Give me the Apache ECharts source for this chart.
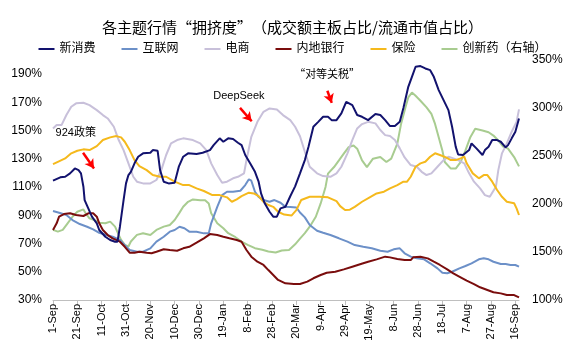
<!DOCTYPE html>
<html>
<head>
<meta charset="utf-8">
<script src="https://cdn.jsdelivr.net/npm/echarts@6/dist/echarts.min.js"></script>
<style>
html,body{margin:0;padding:0;background:#fff;}
#c{width:585px;height:355px;}
</style>
</head>
<body>
<div id="c"></div>
<script>
// x values: days since 1-Sep-2024
const xinxiaofeiDays = [0,6,10,14,18,21,23,25,26,29,32,36,38,43,47,51,53,55,58,60,62,64,67,70,74,80,82,86,88,91,95,100,103.5,107,111,118,123,129,132,137,140,144,148,152,155,158,162,166,169,171,174,178,181,184,187,191,195,199,203,207,210,214,218,222,226,229,233,237,241,246,250,254,259,265,269,273,277,281,285,288,292,295,298,302,306,310,313,317,321,325,328,331,333,337,342,344,348,353,355,358,361,365,368,372,374,377,380,383];
const xinxiaofeiVals = [114.5,116.9,117.3,119.7,123.2,122,119.7,110.2,100.8,94.9,89,84.3,79.6,74.8,72.5,71.3,71.3,81.9,100.8,112.6,118.5,120.8,126.8,131.5,133.9,134.3,136.2,135.7,122,113.8,112.6,113,124.7,131.5,133.9,133.4,134.3,136.2,139.7,144.5,142.1,144.5,144,141.4,139.7,132.7,126.8,120.8,113.8,105.5,98.5,92.5,89,89,94.9,96,103.5,110.5,119.7,129.1,138.5,152.7,156.2,159.8,159.8,157.4,157.4,162.2,170.4,168,161,159.8,157.4,161.7,161,157.4,153.2,153.2,156.2,166,181,188.1,195.2,195.7,194,192.8,188.1,178.7,171.6,164.5,152.7,138.5,133.1,132.7,136.2,140.9,137.4,132.7,136.2,138.5,143.3,143.3,142.1,138.1,139.7,144.5,149.2,158.6];

const hulianwangDays = [0,5,11,16,22,28,33,38,44,49,55,59,63,69,74,80,85,91,96,100,104,108,112,118,124,128,130,135,139,143,148,154,158,161,163,166,169,173,178,182,187,191,195,200,203,207,211,217,222,228,235,242,248,255,262,269,275,280,285,289,294,299,305,310,316,320,324,328,334,339,344,350,354,358,362,368,372,376,380,383];
const hulianwangVals = [93,91.8,90.2,86.6,83.8,81.9,80,77.6,76,74.8,72.5,68.9,65.4,64.2,64.2,66.6,71.3,74.8,78.4,79.6,81.9,80.8,78.4,78.4,77.2,77.2,84.3,96,104.3,106.7,106.7,107.4,111.4,115.5,114.5,106.7,103.1,100.8,99.6,100.8,98.9,96,95.8,95.5,92,88.5,83.1,79.1,77.6,76,73.7,71.3,68.9,67.7,66.6,64.9,64.2,65.9,66.6,63.1,60.7,59.5,58.8,56,52.4,49.3,48.9,50,52.4,54.1,56,58.8,59.5,58.8,57.1,55.5,55.5,54.8,54.8,53.6];

const dianshangDays = [0,3,7,11,15,19,25,30,36,41,45,50,54,58,62,66,69,74,80,85,89,93,97,102,107,115,121,126,130,135,139,143,148,152,157,159,163,168,173,178,184,189,195,199,203,207,211,217,222,228,233,237,242,246,250,254,259,265,269,273,277,281,285,289,294,299,303,307,311,316,321,325,329,333,338,342,346,351,355,359,364,366,369,373,377,381,383];
const dianshangVals = [151.5,153.9,153.9,161,166.9,169.3,169.7,168,164.5,161,158.6,152.7,143.3,136.2,126.8,117.3,113.8,112.6,112.6,115,122,132.7,140.9,143.3,144.5,143.3,140.9,136.2,126.8,118.5,113,113.8,116.2,117.3,119.7,129,145.6,156.2,163.3,165.7,165,161,157.4,152.7,146,135,124.4,119.7,117.8,117.3,119.7,124.4,133.9,143.3,151.5,154.6,156.2,155.1,150.4,146.8,146.1,143.3,137.4,131,125.6,124.4,120.8,118.5,119.7,124.4,129.1,131.5,130.3,129.1,126.8,119.7,113.8,109.1,104.3,103.1,110.2,122,133.9,140.9,149.2,156.2,165];

const yinhangDays = [0,3,5,9,14,19,25,29,33,36,38,41,45,49,55,59,63,67,71,77,81,85,91,96,102,107,112,118,124,129,135,140,145,151,155,159,163,168,173,177,181,185,191,198,203,209,214,220,225,232,239,246,253,259,266,273,277,283,289,294,296,302,308,313,318,324,329,335,340,346,351,357,362,368,373,379,383];
const yinhangVals = [79.6,84.3,89,90.9,91.4,90.2,89.5,91.4,91.4,89,84.3,79.6,76,73.7,71.3,67.7,63.5,63.5,64.2,63.5,63.1,64.2,65.9,65.4,64.9,66.6,67.7,70.6,73.7,76.7,76,74.8,73.7,72.5,71.3,65.4,60.7,57.1,54.8,51.2,47.7,44.2,41.8,41.3,41.3,43,45.4,47.7,49.3,50,51.7,53.6,55.5,57.1,58.8,60.7,60.2,59,58.3,58.3,60.2,60.7,59.5,57.1,54.8,51.7,48.9,46.1,43.7,41.3,39,37.1,35.5,34.7,33.5,33.5,31.9];

const baoxianDays = [0,4,10,15,20,25,30,36,41,47,52,56,59,63,67,71,77,82,88,93,100,107,112,118,124,131,137,143,147,151,155,161,165,169,173,177,181,185,190,196,200,204,211,219,226,233,236,240,244,248,254,261,266,272,277,283,288,291,294,298,302,306,310,314,318,323,327,331,335,338,340,345,350,354,357,361,365,369,373,379,381,383];
const baoxianVals = [126.3,127.9,130.3,133.9,135.7,136.7,136.2,139,143.3,145.2,146.1,145.2,142.1,136.2,129.1,124.9,122,118.5,117.3,117.3,113.8,111.4,111.4,109.1,107.2,104.3,104.3,102.7,99.6,101.3,103.6,106,105.5,103.6,99.6,97.3,96,92.5,90.5,89.8,93.7,100.8,103.1,103.1,102.7,100,96.5,93.7,94,96,99.6,103.1,105.5,106.7,109.1,111.4,113.8,113.8,117.3,124.4,126.8,127.9,131.5,133.9,132.7,131,129.1,129.1,130.3,131.5,126.8,119.7,116.2,118.5,118.5,113.8,107.9,103.1,99.6,98.5,94.9,90.2];

const chuangxinyaoDays = [0,4,8,12,16,20,25,27,30,34,38,43,47,51,54,56,59,62,64,69,74,80,85,91,96,100,104,107,111,115,121,125,128,130,135,140,144,150,155,160,166,172,177,183,188,194,199,203,207,211,216,220,224,226,231,235,239,243,247,250,254,258,263,269,274,278,283,286,290,292,295,298,302,307,311,314,317,320,322,327,331,335,339,343,347,353,358,362,366,370,374,379,383];
const chuangxinyaoVals = [173,171.2,173,179.9,186.7,191.9,194.4,190,185.1,183.3,180.5,179.9,181.6,176.4,167.8,162.6,157.5,155.7,160.9,167.8,169.6,167.8,173,176.4,178.2,183.3,191,197.1,202.3,204.8,204,204,200.6,190.3,179.9,174.7,169.6,165.4,160.9,157.5,154,152.3,150.5,149.5,151.6,152,158,164,169.6,176.4,186.7,200.6,217.8,231.7,238.5,245.4,252.4,259.2,261,257.6,245.4,238.5,247.2,248.9,243.7,247.2,263,283,302,311,316.1,312.7,307.6,300.6,293.8,283.4,269.6,255.8,243.7,236.9,236.9,243.7,255.8,269.6,278.3,276.5,274.7,271.3,266.1,259.9,257.6,248.9,239.2];

const leftTicks = {min: 30, max: 200, interval: 20};
const rightTicks = {min: 100, max: 350, interval: 50};
const xRange = {min: 0, max: 383, interval: 20};
const monthNames = ['Jan','Feb','Mar','Apr','May','Jun','Jul','Aug','Sep','Oct','Nov','Dec'];

// annotations (data coordinates)
const notes = [
  {text: '924政策', at: [18.7, 148.6], arrow: [[24.7, 134.3], [33.7, 123.2]]},
  {text: 'DeepSeek', at: [152.8, 174.8], arrow: [[153.7, 166.1], [163.3, 156.6]]},
  {text: '“对等关税”', at: [225.3, 190], arrow: [[225.5, 178.2], [229.1, 169.6]]}
];

const zip = (a, b) => a.map((d, i) => [d, b[i]]);
const FONT = '"Liberation Sans", Arial, "Noto Sans CJK SC", sans-serif';
const CJK = '"Noto Sans CJK SC", "Liberation Sans", sans-serif';

const seriesDefs = [
  {name: '新消费', days: xinxiaofeiDays, vals: xinxiaofeiVals, color: '#12126e', y: 0, z: 8},
  {name: '互联网', days: hulianwangDays, vals: hulianwangVals, color: '#6c90c8', y: 0, z: 3},
  {name: '电商', days: dianshangDays, vals: dianshangVals, color: '#c8c0da', y: 0, z: 2},
  {name: '内地银行', days: yinhangDays, vals: yinhangVals, color: '#7a0d0d', y: 0, z: 4},
  {name: '保险', days: baoxianDays, vals: baoxianVals, color: '#f5b91c', y: 0, z: 5},
  {name: '创新药（右轴）', days: chuangxinyaoDays, vals: chuangxinyaoVals, color: '#a8cc90', y: 1, z: 1}
];

const chart = echarts.init(document.getElementById('c'), null, {renderer: 'canvas'});
const series = seriesDefs.map(s => ({
  name: s.name, type: 'line', yAxisIndex: s.y, data: zip(s.days, s.vals),
  showSymbol: false, symbol: 'none', smooth: false, z: s.z,
  lineStyle: {color: s.color, width: 2}, itemStyle: {color: s.color}
}));
series[4].markLine = {
  silent: true, animation: false, symbol: ['none', 'arrow'], symbolSize: [8, 9],
  label: {show: false},
  lineStyle: {color: '#ff0000', width: 2.5, type: 'solid'},
  data: notes.map(n => [{coord: n.arrow[0]}, {coord: n.arrow[1]}])
};

const option = {
  animation: false,
  backgroundColor: '#ffffff',
  textStyle: {fontFamily: FONT},
  title: {
    text: '各主题行情“拥挤度”（成交额主板占比/流通市值占比）',
    left: 'center', top: 15,
    textStyle: {fontSize: 15, fontWeight: 'normal', color: '#000', fontFamily: CJK}
  },
  legend: {
    top: 38, left: 'center', itemGap: 26, itemWidth: 16, itemHeight: 2, icon: 'rect',
    textStyle: {fontSize: 12, color: '#000', fontFamily: FONT},
    data: seriesDefs.map(s => s.name)
  },
  grid: {left: 53, right: 66, top: 60, bottom: 55, containLabel: false},
  xAxis: {
    type: 'value', min: xRange.min, max: xRange.max, interval: xRange.interval,
    splitLine: {show: false},
    axisLine: {show: true, lineStyle: {color: '#bfbfbf', width: 1}},
    axisTick: {show: true, length: 5, lineStyle: {color: '#bfbfbf'}},
    axisLabel: {
      rotate: 90, fontSize: 11, color: '#000', margin: 4, showMaxLabel: false,
      formatter: v => { const d = new Date(2024, 8, 1 + v); return d.getDate() + '-' + monthNames[d.getMonth()]; }
    }
  },
  yAxis: [
    {
      type: 'value', min: leftTicks.min, max: leftTicks.max, interval: leftTicks.interval,
      splitLine: {show: false}, axisLine: {show: false}, axisTick: {show: false},
      axisLabel: {fontSize: 12, color: '#000', margin: 11, showMaxLabel: false, formatter: v => v + '%'}
    },
    {
      type: 'value', min: rightTicks.min, max: rightTicks.max, interval: rightTicks.interval,
      splitLine: {show: false}, axisLine: {show: false}, axisTick: {show: false},
      axisLabel: {fontSize: 12, color: '#000', margin: 13, formatter: v => v + '%'}
    }
  ],
  series: series
};
chart.setOption(option);

const graphics = notes.map(n => {
  const p = chart.convertToPixel({xAxisIndex: 0, yAxisIndex: 0}, n.at);
  return {
    type: 'text', x: p[0], y: p[1], z: 100,
    style: {text: n.text, fontSize: 11, fill: '#000', fontFamily: n.text.indexOf('“') >= 0 ? CJK : FONT, align: 'center', verticalAlign: 'middle'}
  };
});
chart.setOption({graphic: graphics});
</script>
</body>
</html>
